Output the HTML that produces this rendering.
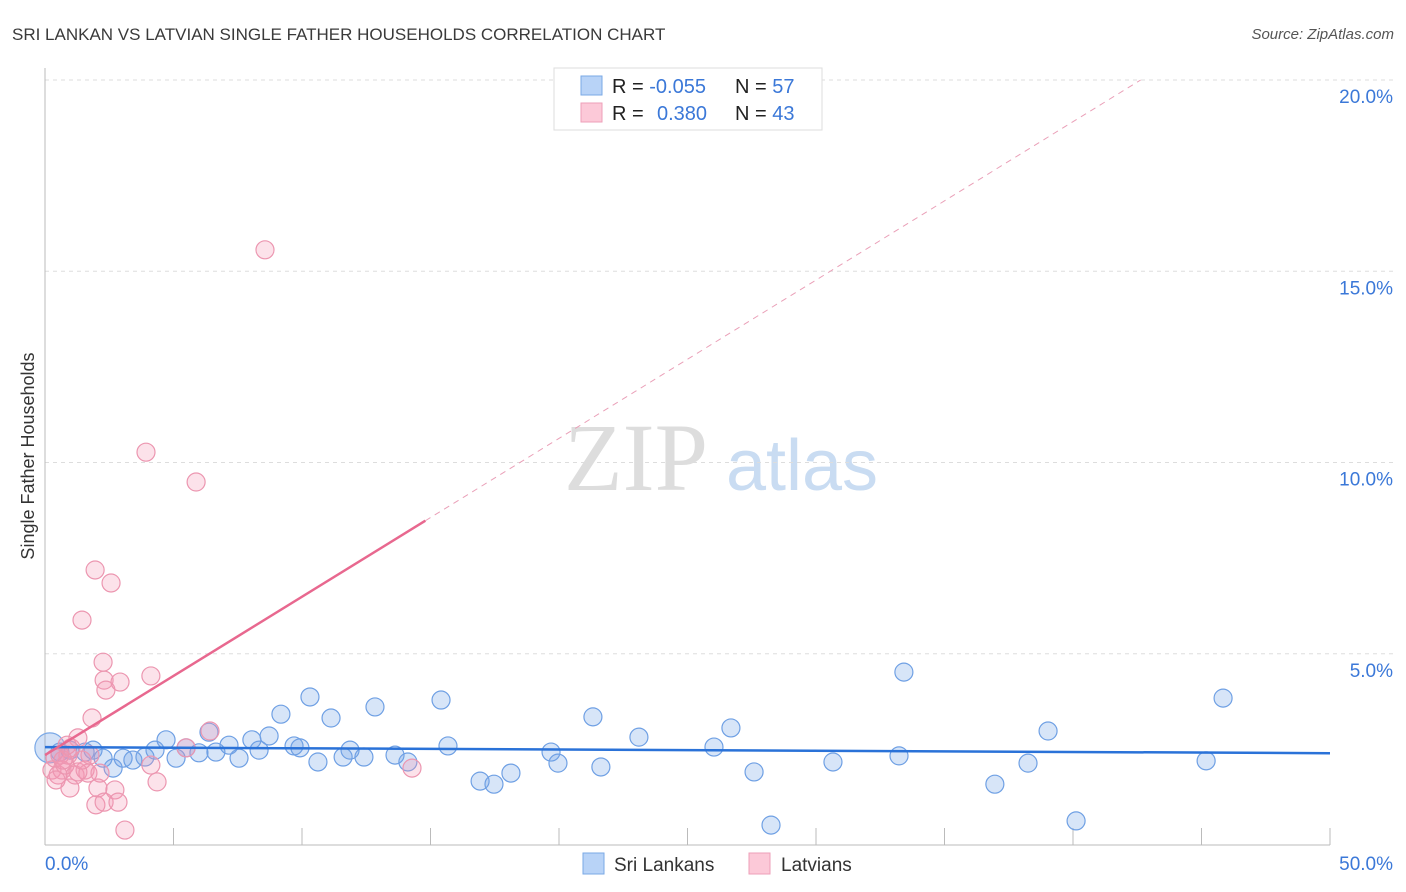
<!DOCTYPE html>
<html><head><meta charset="utf-8"><style>
body{margin:0;background:#fff;font-family:"Liberation Sans",sans-serif;}
svg{display:block}
</style></head><body>
<svg id="chart" width="1406" height="892" xmlns="http://www.w3.org/2000/svg">
<text x="12" y="40" font-size="17" fill="#3a3a3a">SRI LANKAN VS LATVIAN SINGLE FATHER HOUSEHOLDS CORRELATION CHART</text>
<text x="1394" y="39" font-size="15" fill="#555" font-style="italic" text-anchor="end">Source: ZipAtlas.com</text>
<text x="636" y="490" font-size="96" fill="#ddd" font-family="Liberation Serif,serif" text-anchor="middle">ZIP</text>
<text x="802" y="490" font-size="72" fill="#c9dcf2" text-anchor="middle">atlas</text>
<text transform="translate(34,456) rotate(-90)" font-size="18" fill="#333" text-anchor="middle">Single Father Households</text>
<g id="grid"></g><g id="marks"></g>
<g>
<rect x="554" y="68" width="268" height="62" fill="#fff" stroke="#ddd"/>
<rect x="581" y="76" width="21" height="19" fill="#b8d3f7" stroke="#7aa8e6"/>
<rect x="581" y="103" width="21" height="19" fill="#fcc9d8" stroke="#ee9fb8"/>
<text x="612" y="93" font-size="20" fill="#222">R = <tspan fill="#3b78d8">-0.055</tspan></text>
<text x="735" y="93" font-size="20" fill="#222">N = <tspan fill="#3b78d8">57</tspan></text>
<text x="612" y="120" font-size="20" fill="#222">R = <tspan fill="#3b78d8" x="657">0.380</tspan></text>
<text x="735" y="120" font-size="20" fill="#222">N = <tspan fill="#3b78d8">43</tspan></text>
</g>
<g>
<rect x="583" y="853" width="21" height="21" fill="#b8d3f7" stroke="#7aa8e6"/>
<text x="614" y="871" font-size="19" fill="#333">Sri Lankans</text>
<rect x="749" y="853" width="21" height="21" fill="#fcc9d8" stroke="#ee9fb8"/>
<text x="781" y="871" font-size="19" fill="#333">Latvians</text>
</g>
</svg>
<script>
const yTicks=[5,10,15,20];
const yTickLabels=["5.0%","10.0%","15.0%","20.0%"];
const xTicks=[0,5,10,15,20,25,30,35,40,45,50];
const xEndLabels=["0.0%","50.0%"];
const blueX=[0.58,0.97,1.56,1.87,2.26,2.65,3.04,3.42,3.89,4.28,4.71,5.10,5.49,5.99,6.38,6.65,7.16,7.55,8.05,8.33,8.72,9.18,9.69,9.92,10.31,10.62,11.13,11.60,11.87,12.41,12.84,13.62,14.12,15.41,15.68,16.93,17.47,18.13,19.69,19.96,21.32,21.63,23.11,26.03,26.69,27.59,28.25,30.66,33.23,33.42,36.96,38.25,39.03,40.12,45.18,45.84];
const blueY=[2.43,2.48,2.43,2.48,2.27,2.01,2.27,2.22,2.30,2.48,2.75,2.27,2.54,2.41,2.95,2.43,2.61,2.27,2.75,2.48,2.85,3.42,2.59,2.54,3.87,2.17,3.32,2.30,2.48,2.30,3.61,2.35,2.17,3.79,2.59,1.67,1.59,1.88,2.43,2.14,3.35,2.04,2.82,2.56,3.06,1.91,0.52,2.17,2.33,4.52,1.59,2.14,2.98,0.63,2.20,3.84];
const pinkX=[0.27,0.39,0.51,0.66,0.78,0.89,0.97,1.17,1.28,1.44,1.56,1.67,1.83,1.95,1.98,2.06,2.26,2.30,2.30,2.37,2.57,2.72,2.84,2.92,3.11,3.93,4.12,4.12,4.36,5.49,5.88,6.42,8.56,14.28,0.58,1.28,1.01,0.70,2.14,0.43,1.44,0.86,1.75];
const pinkY=[1.96,2.27,1.83,1.96,2.09,2.35,1.49,1.83,2.80,5.88,1.96,1.88,3.32,7.19,1.05,1.49,4.78,1.12,4.31,4.05,6.85,1.44,1.12,4.26,0.39,10.27,4.42,2.09,1.65,2.54,9.49,2.98,15.56,2.01,2.35,1.91,2.54,2.22,1.88,1.70,2.22,2.61,2.35];
const blueTrend=[2.56,2.40];
const pinkTrend=[2.35,0.414];
const NS="http://www.w3.org/2000/svg";
const X=v=>45+v*25.7, Y=v=>845-v*38.25;
function mk(tag,attrs,parent){const e=document.createElementNS(NS,tag);for(const k in attrs)e.setAttribute(k,attrs[k]);parent.appendChild(e);return e;}
const grid=document.getElementById('grid'), marks=document.getElementById('marks');
yTicks.forEach((t,i)=>{
 const l=mk('line',{x1:45,x2:1395,y1:Y(t),y2:Y(t),stroke:'#ddd','stroke-dasharray':'4,4'},grid);
 
 
 const tx=mk('text',{x:1393,y:Y(t)+23,'font-size':19,fill:'#3b78d8','text-anchor':'end'},grid);
 tx.textContent=yTickLabels[i];
 
 
});
const ya=mk('line',{x1:45,x2:45,y1:68,y2:845,stroke:'#bbb'},grid);


const xa=mk('line',{x1:45,x2:1330,y1:845,y2:845,stroke:'#bbb'},grid);


xTicks.slice(1).forEach(t=>{
 const l=mk('line',{x1:X(t),x2:X(t),y1:828,y2:845,stroke:'#bbb'},grid);
 
 
});
const xl0=mk('text',{x:45,y:870,'font-size':19,fill:'#3b78d8'},grid);xl0.textContent=xEndLabels[0];


const xl1=mk('text',{x:1393,y:870,'font-size':19,fill:'#3b78d8','text-anchor':'end'},grid);xl1.textContent=xEndLabels[1];


const big=mk('circle',{cx:X(0.19),cy:Y(2.54),r:15,fill:'rgba(110,160,230,0.3)',stroke:'#7aa8e6','stroke-width':1.2},marks);


blueX.forEach((x,i)=>{
 const c=mk('circle',{cx:X(x),cy:Y(blueY[i]),r:9,fill:'rgba(110,160,230,0.28)',stroke:'#6fa0e4','stroke-width':1.2},marks);
 
 
});
pinkX.forEach((x,i)=>{
 const c=mk('circle',{cx:X(x),cy:Y(pinkY[i]),r:9,fill:'rgba(245,150,180,0.28)',stroke:'#ec96b0','stroke-width':1.2},marks);
 
 
});
const bl=mk('line',{x1:X(0),x2:X(50),y1:Y(blueTrend[0]),y2:Y(blueTrend[1]),stroke:'#2a72d8','stroke-width':2.5},marks);


const pEnd=14.8, pDash=(20-pinkTrend[0])/pinkTrend[1];
const pl=mk('line',{x1:X(0),x2:X(pEnd),y1:Y(pinkTrend[0]),y2:Y(pinkTrend[0]+pinkTrend[1]*pEnd),stroke:'#e8688f','stroke-width':2.5},marks);


const pd=mk('line',{x1:X(pEnd),x2:X(pDash),y1:Y(pinkTrend[0]+pinkTrend[1]*pEnd),y2:Y(20),stroke:'#eaa0b8','stroke-width':1,'stroke-dasharray':'6,5'},marks);


</script>
</body></html>
